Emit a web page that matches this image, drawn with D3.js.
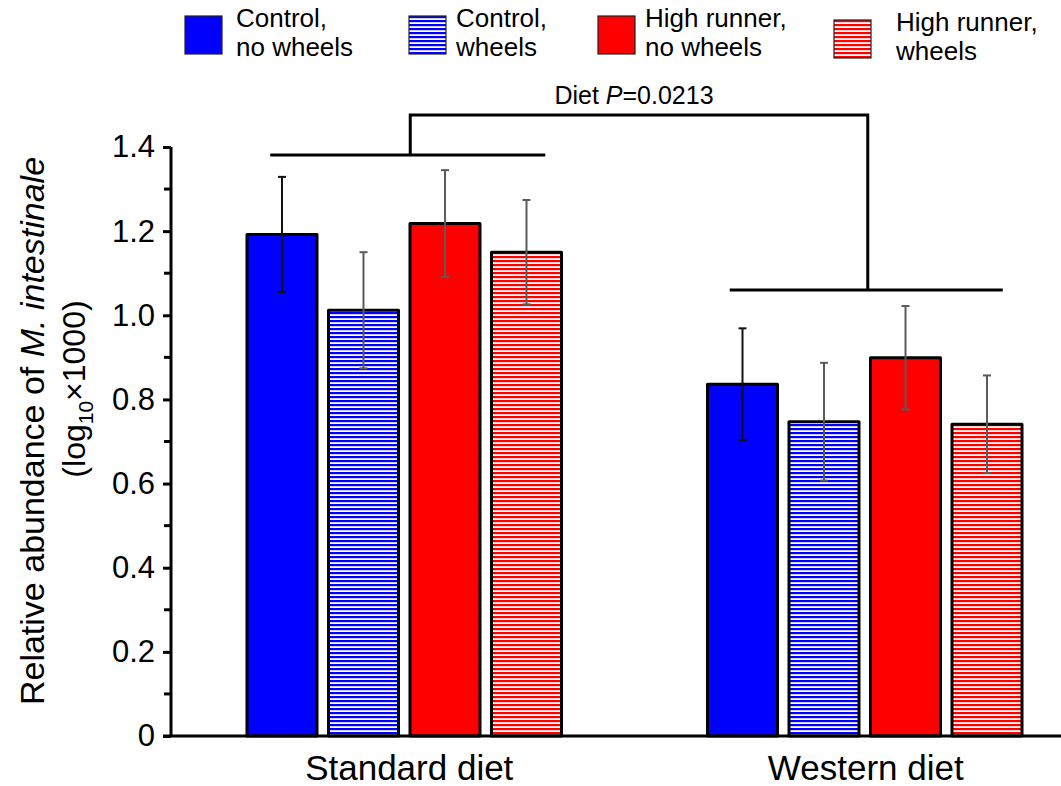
<!DOCTYPE html>
<html>
<head>
<meta charset="utf-8">
<script src="https://cdn.jsdelivr.net/npm/d3@7"></script>
<style>
  body { margin: 0; background: #fff; }
  svg { display: block; font-family: "Liberation Sans", Arial, sans-serif; }
</style>
</head>
<body>
<svg id="chart" width="1061" height="786"></svg>
<script>
// data
const diets = ["Standard diet", "Western diet"];
const groups = ["ctrl_nw", "ctrl_w", "hr_nw", "hr_w"];
const legendLines = [
  ["Control,", "no wheels"],
  ["Control,", "wheels"],
  ["High runner,", "no wheels"],
  ["High runner,", "wheels"]
];
const means = {
  "Standard diet": [1.192, 1.012, 1.218, 1.150],
  "Western diet":  [0.836, 0.747, 0.899, 0.741]
};
const errors = {
  "Standard diet": [0.137, 0.138, 0.127, 0.124],
  "Western diet":  [0.133, 0.140, 0.123, 0.116]
};
const yTicks = [0, 0.2, 0.4, 0.6, 0.8, 1.0, 1.2, 1.4];
const yMinorTicks = [0.1, 0.3, 0.5, 0.7, 0.9, 1.1, 1.3];
const pLabel = "0.0213";

// colours
const blue = "#0000ff";
const red = "#ff0000";
const groupFill = ["solid", "hatch", "solid", "hatch"];
const groupColor = [blue, blue, red, red];
const errColor = ["#111", "#5a5a5a", "#5a5a5a", "#5a5a5a"];

const svg = d3.select("#chart");
const width = 1061, height = 786;

// hatch patterns (horizontal stripes)
const defs = svg.append("defs");
[["hatch-blue", blue], ["hatch-red", red]].forEach(([id, c]) => {
  const p = defs.append("pattern")
    .attr("id", id)
    .attr("patternUnits", "userSpaceOnUse")
    .attr("width", 8).attr("height", 4);
  p.append("rect").attr("width", 8).attr("height", 4).attr("fill", "#fff");
  p.append("rect").attr("y", 0).attr("width", 8).attr("height", 2.2).attr("fill", c);
});
function fillFor(i) {
  if (groupFill[i] === "solid") return groupColor[i];
  return groupColor[i] === blue ? "url(#hatch-blue)" : "url(#hatch-red)";
}

// scales
const y = d3.scaleLinear().domain([0, 1.4]).range([736, 147]);
const x0 = d3.scaleBand().domain(diets).range([174, 1095]).padding(0);
const x1 = d3.scaleBand().domain(groups).range([-157.25, 157.25]).paddingInner(0.141).paddingOuter(0);
const center = d => x0(d) + x0.bandwidth() / 2;

// y axis
const yAxis = svg.append("g")
  .attr("transform", "translate(171,0)")
  .call(d3.axisLeft(y).tickValues(yTicks).tickSize(8).tickPadding(8)
    .tickFormat(d => d === 0 ? "0" : d3.format(".1f")(d)));
yAxis.append("g").selectAll("line")
  .data(yMinorTicks).join("line")
  .attr("x1", -7).attr("x2", 0)
  .attr("y1", d => y(d)).attr("y2", d => y(d))
  .attr("stroke", "#000").attr("stroke-width", 3);
yAxis.select(".domain").attr("d", `M0,${y(1.4)}V${y(0)}`);
yAxis.selectAll("path, line").attr("stroke", "#000").attr("stroke-width", 3);
yAxis.selectAll("text").attr("font-size", 31).attr("fill", "#000")
  .attr("font-family", "'Liberation Sans', Arial, sans-serif");

// bars
const gGroups = svg.append("g").selectAll("g")
  .data(diets).join("g")
  .attr("transform", d => `translate(${center(d)},0)`);

gGroups.selectAll("rect")
  .data(d => groups.map((g, i) => ({ g, i, v: means[d][i] })))
  .join("rect")
  .attr("x", d => x1(d.g))
  .attr("y", d => y(d.v))
  .attr("width", x1.bandwidth())
  .attr("height", d => y(0) - y(d.v))
  .attr("fill", d => fillFor(d.i))
  .attr("stroke", "#000")
  .attr("stroke-width", 3)
  .attr("stroke-linejoin", "round");

// error bars
const eb = gGroups.selectAll("g.err")
  .data(d => groups.map((g, i) => ({ g, i, v: means[d][i], e: errors[d][i] })))
  .join("g").attr("class", "err")
  .attr("stroke", d => errColor[d.i])
  .attr("stroke-width", 2);
eb.append("line")
  .attr("x1", d => x1(d.g) + x1.bandwidth() / 2)
  .attr("x2", d => x1(d.g) + x1.bandwidth() / 2)
  .attr("y1", d => y(d.v + d.e)).attr("y2", d => y(d.v - d.e));
eb.selectAll("line.cap")
  .data(d => [d.v + d.e, d.v - d.e].map(v => ({ v, cx: x1(d.g) + x1.bandwidth() / 2 })))
  .join("line").attr("class", "cap")
  .attr("x1", d => d.cx - 4).attr("x2", d => d.cx + 4)
  .attr("y1", d => y(d.v)).attr("y2", d => y(d.v));

// x axis
svg.append("line")
  .attr("x1", 163).attr("x2", width)
  .attr("y1", y(0)).attr("y2", y(0))
  .attr("stroke", "#000").attr("stroke-width", 3);
const labelShift = [5, 1];
svg.append("g").selectAll("text")
  .data(diets).join("text")
  .attr("x", (d, i) => center(d) + labelShift[i])
  .attr("y", 780)
  .attr("text-anchor", "middle")
  .attr("font-size", 35)
  .text(d => d);

// y title
const yt = svg.append("text")
  .attr("transform", "translate(44,431) rotate(-90)")
  .attr("text-anchor", "middle")
  .attr("font-size", 34);
yt.append("tspan").text("Relative abundance of ");
yt.append("tspan").attr("font-style", "italic").text("M. intestinale");
const yt2 = svg.append("text")
  .attr("transform", "translate(85,389) rotate(-90)")
  .attr("text-anchor", "middle")
  .attr("font-size", 32);
yt2.append("tspan").text("(log");
yt2.append("tspan").attr("font-size", 21).attr("dy", 8).text("10");
yt2.append("tspan").attr("dy", -8).text("\u00d71000)");

// significance bracket
const br = svg.append("g").attr("stroke", "#000").attr("stroke-width", 3).attr("fill", "none");
const yStdLine = y(1.381), yWesLine = y(1.060), yTop = y(1.476);
br.append("line")
  .attr("x1", center(diets[0]) - 134).attr("x2", center(diets[0]) + 141)
  .attr("y1", yStdLine).attr("y2", yStdLine);
br.append("line")
  .attr("x1", center(diets[1]) - 135).attr("x2", center(diets[1]) + 138)
  .attr("y1", yWesLine).attr("y2", yWesLine);
br.append("path")
  .attr("d", `M${center(diets[0]) + 6},${yStdLine}V${yTop}H${center(diets[1]) + 3}V${yWesLine}`);
const pt = svg.append("text")
  .attr("x", 634).attr("y", 104)
  .attr("text-anchor", "middle")
  .attr("font-size", 25);
pt.append("tspan").text("Diet ");
pt.append("tspan").attr("font-style", "italic").text("P");
pt.append("tspan").text("=" + pLabel);

// legend
const legendX = [185, 409, 598, 834];
const legendDy = [0, 0, 0, 4];
const legendTextX = [51, 47, 47, 62];
const lg = svg.append("g").selectAll("g")
  .data(groups).join("g")
  .attr("transform", (d, i) => `translate(${legendX[i]},${16 + legendDy[i]})`);
lg.append("rect")
  .attr("width", 37).attr("height", 38)
  .attr("fill", (d, i) => fillFor(i))
  .attr("stroke", "#222").attr("stroke-width", 1.2);
lg.append("text")
  .attr("font-size", 26)
  .selectAll("tspan")
  .data((d, i) => legendLines[i].map(t => ({ t, dx: legendTextX[i] })))
  .join("tspan")
  .attr("x", d => d.dx)
  .attr("y", (d, j) => 11 + j * 29)
  .text(d => d.t);
</script>
</body>
</html>
